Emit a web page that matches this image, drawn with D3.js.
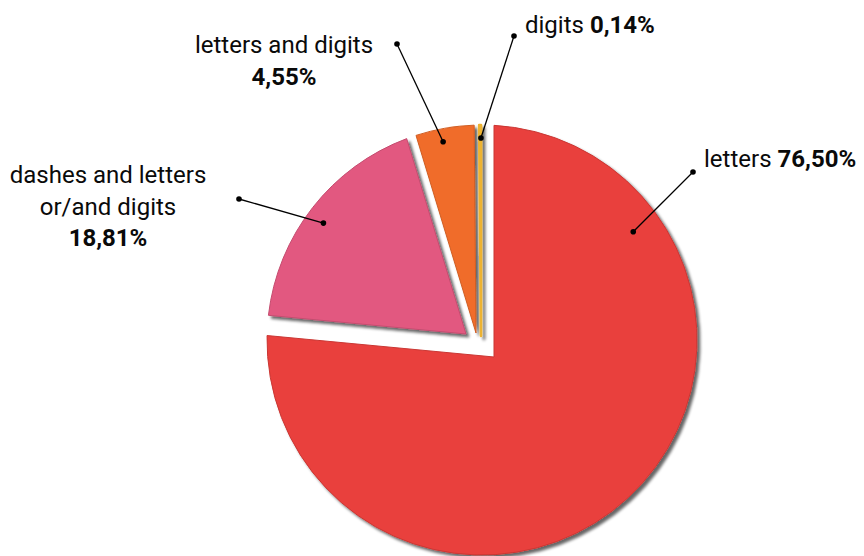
<!DOCTYPE html>
<html><head><meta charset="utf-8">
<script src="https://cdn.jsdelivr.net/npm/d3@7"></script>
<style>html,body{margin:0;padding:0;background:#fff;} svg{display:block;}</style>
</head><body>
<svg id="chart" width="864" height="556"></svg>
<script>
// ---- data ----
const categories = ["letters", "dashes and letters\nor/and digits", "letters and digits", "digits"];
const shares = [76.50, 18.81, 4.55, 0.14];
const shareLabels = ["76,50%", "18,81%", "4,55%", "0,14%"];

// ---- style / layout ----
const colors = ["#E9403C", "#E25880", "#F06C2A", "#EDB332"];
const strokeWidths = [1, 1, 1, 2.6];
const cx = 482, cy = 340, R = 215;
const sliceShift = [[12, 17], [-16, -6], [-6, -7], [-1, -4]];   // explode offsets of each slice
const labelLayout = [
  {dotAngle: 54.4, dotR: 186, end: [693, 172], mode: "inline", x: 704, y: 167},
  {dotAngle: 306.4, dotR: 197, end: [239, 199], mode: "block", x: 108, y: 183, lh: 31.5},
  {dotAngle: 348.9, dotR: 202, end: [397, 44], mode: "block", x: 284, y: 53, lh: 32},
  {dotAngle: 359.7, dotR: 202, end: [514, 36], mode: "inline", x: 525, y: 33}
];
const FONT = "Roboto, 'Liberation Sans', Arial, sans-serif";
const FS = 24;

const svg = d3.select("#chart");
const defs = svg.append("defs");
const f = defs.append("filter").attr("id", "shadow").attr("x", "-10%").attr("y", "-10%").attr("width", "130%").attr("height", "130%");
f.append("feGaussianBlur").attr("in", "SourceAlpha").attr("stdDeviation", 1.6).attr("result", "b");
f.append("feOffset").attr("in", "b").attr("dx", 2.5).attr("dy", 2.5).attr("result", "o");
f.append("feComponentTransfer").attr("in", "o").attr("result", "s")
  .append("feFuncA").attr("type", "linear").attr("slope", 0.6);
const m = f.append("feMerge");
m.append("feMergeNode").attr("in", "s");
m.append("feMergeNode").attr("in", "SourceGraphic");

const pie = d3.pie().sort(null).value(d => d)(shares);

function slicePath(d, i) {
  const A = [cx + sliceShift[i][0], cy + sliceShift[i][1]];
  const hit = a => {
    const u = [Math.sin(a), -Math.cos(a)];
    const w = [A[0] - cx, A[1] - cy];
    const b = w[0] * u[0] + w[1] * u[1];
    const c = w[0] * w[0] + w[1] * w[1] - R * R;
    const t = -b + Math.sqrt(b * b - c);
    return [A[0] + t * u[0], A[1] + t * u[1]];
  };
  const p0 = hit(d.startAngle), p1 = hit(d.endAngle);
  const t0 = Math.atan2(p0[1] - cy, p0[0] - cx), t1 = Math.atan2(p1[1] - cy, p1[0] - cx);
  const p = d3.path();
  p.moveTo(A[0], A[1]);
  p.lineTo(p0[0], p0[1]);
  p.arc(cx, cy, R, t0, t1, false);
  p.closePath();
  return p.toString();
}

svg.append("g").attr("filter", "url(#shadow)")
  .selectAll("path").data(pie).join("path")
  .attr("d", slicePath)
  .attr("fill", (d, i) => colors[i])
  .attr("stroke", (d, i) => i === 3 ? colors[i] : d3.color(colors[i]).darker(0.4))
  .attr("stroke-width", (d, i) => strokeWidths[i])
  .attr("stroke-linejoin", "round");

// leader lines
const lead = svg.append("g");
labelLayout.forEach((L, i) => {
  const a = L.dotAngle * Math.PI / 180;
  const p = [cx + L.dotR * Math.sin(a), cy - L.dotR * Math.cos(a)];
  lead.append("line").attr("x1", p[0]).attr("y1", p[1]).attr("x2", L.end[0]).attr("y2", L.end[1])
    .attr("stroke", "#000").attr("stroke-width", 1.3);
  lead.append("circle").attr("cx", p[0]).attr("cy", p[1]).attr("r", 2.8).attr("fill", "#000");
  lead.append("circle").attr("cx", L.end[0]).attr("cy", L.end[1]).attr("r", 2.8).attr("fill", "#000");
});

// labels
const lab = svg.append("g").attr("font-family", FONT).attr("font-size", FS).attr("fill", "#0a0a0a");
labelLayout.forEach((L, i) => {
  if (L.mode === "inline") {
    const t = lab.append("text").attr("x", L.x).attr("y", L.y).attr("text-anchor", "start");
    t.append("tspan").text(categories[i] + " ");
    t.append("tspan").attr("font-weight", "bold").text(shareLabels[i]);
  } else {
    const lines = categories[i].split("\n");
    lines.forEach((ln, k) => {
      lab.append("text").attr("x", L.x).attr("y", L.y + k * L.lh).attr("text-anchor", "middle").text(ln);
    });
    lab.append("text").attr("x", L.x).attr("y", L.y + lines.length * L.lh)
      .attr("text-anchor", "middle").attr("font-weight", "bold").text(shareLabels[i]);
  }
});
</script>
</body></html>
